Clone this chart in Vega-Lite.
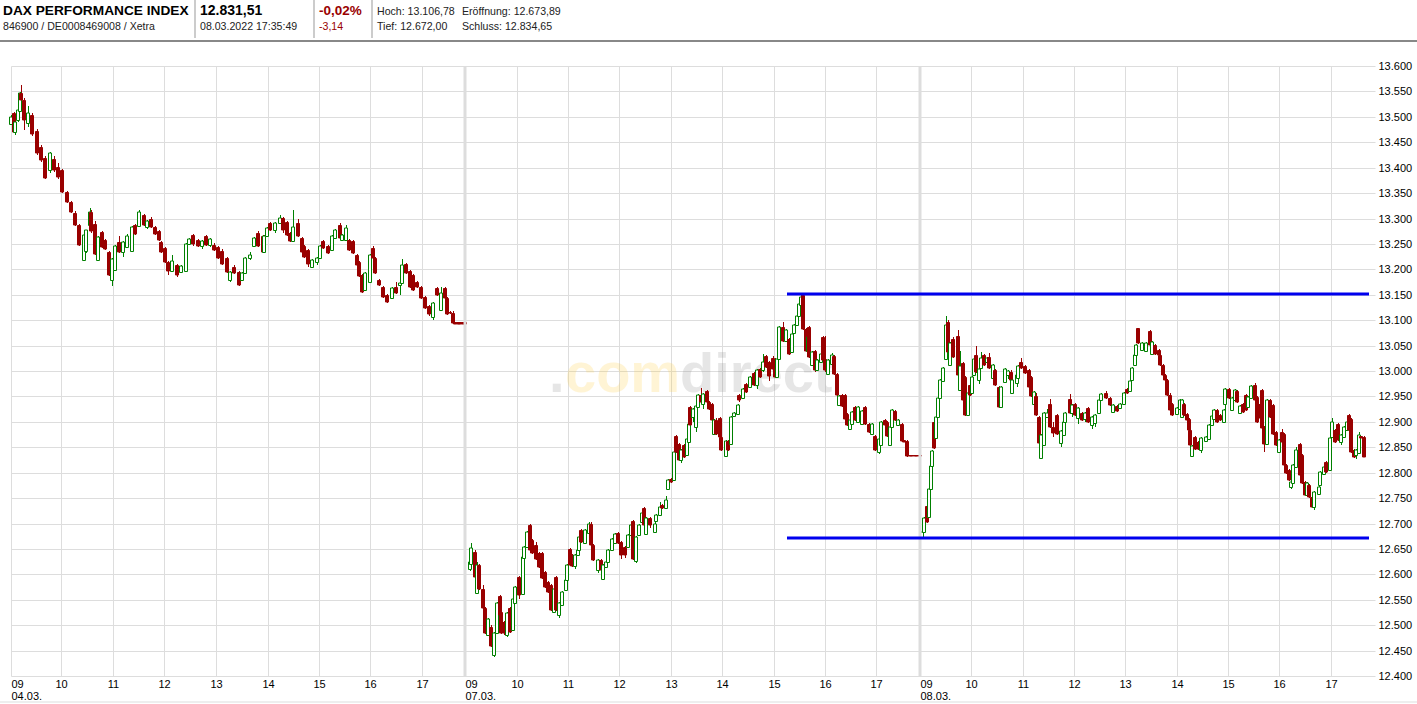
{"$schema":"https://vega.github.io/schema/vega-lite/v6.json","width":1364,"height":610,"autosize":{"type":"none"},"padding":{"left":11,"top":66,"right":42,"bottom":28},"background":"white","config":{"view":{"stroke":null},"text":{"font":"Liberation Sans"}},
"datasets":{"candles":[
{"m":0,"o":13486,"h":13503,"l":13484,"c":13500},{"m":3,"o":13507,"h":13510,"l":13468,"c":13470},{"m":5,"o":13470,"h":13493,"l":13465,"c":13490},{"m":8,"o":13493,"h":13516,"l":13490,"c":13513},{"m":10,"o":13512,"h":13548,"l":13510,"c":13546},{"m":12,"o":13546,"h":13562,"l":13530,"c":13533},{"m":15,"o":13533,"h":13537,"l":13475,"c":13493},{"m":20,"o":13487,"h":13522,"l":13480,"c":13508},{"m":25,"o":13503,"h":13508,"l":13462,"c":13467},{"m":30,"o":13472,"h":13476,"l":13425,"c":13428},{"m":35,"o":13441,"h":13444,"l":13412,"c":13415},{"m":40,"o":13420,"h":13422,"l":13378,"c":13380},{"m":45,"o":13395,"h":13431,"l":13390,"c":13428},{"m":50,"o":13418,"h":13422,"l":13392,"c":13395},{"m":55,"o":13402,"h":13409,"l":13378,"c":13382},{"m":60,"o":13395,"h":13398,"l":13350,"c":13352},{"m":65,"o":13352,"h":13355,"l":13330,"c":13332},{"m":70,"o":13332,"h":13335,"l":13311,"c":13313},{"m":75,"o":13311,"h":13314,"l":13285,"c":13287},{"m":80,"o":13287,"h":13290,"l":13245,"c":13247},{"m":85,"o":13219,"h":13267,"l":13216,"c":13267},{"m":88,"o":13236,"h":13277,"l":13232,"c":13277},{"m":92,"o":13287,"h":13321,"l":13284,"c":13313},{"m":94,"o":13313,"h":13316,"l":13272,"c":13275},{"m":98,"o":13290,"h":13295,"l":13229,"c":13231},{"m":102,"o":13219,"h":13266,"l":13216,"c":13264},{"m":106,"o":13273,"h":13276,"l":13242,"c":13244},{"m":110,"o":13257,"h":13260,"l":13238,"c":13240},{"m":114,"o":13234,"h":13236,"l":13186,"c":13188},{"m":118,"o":13179,"h":13223,"l":13167,"c":13221},{"m":122,"o":13198,"h":13247,"l":13196,"c":13245},{"m":126,"o":13254,"h":13265,"l":13232,"c":13234},{"m":131,"o":13234,"h":13256,"l":13225,"c":13254},{"m":136,"o":13244,"h":13270,"l":13242,"c":13265},{"m":141,"o":13237,"h":13285,"l":13235,"c":13283},{"m":145,"o":13287,"h":13289,"l":13268,"c":13270},{"m":149,"o":13285,"h":13316,"l":13283,"c":13313},{"m":155,"o":13306,"h":13309,"l":13285,"c":13287},{"m":159,"o":13283,"h":13298,"l":13280,"c":13296},{"m":164,"o":13300,"h":13303,"l":13281,"c":13283},{"m":168,"o":13283,"h":13285,"l":13268,"c":13270},{"m":173,"o":13275,"h":13277,"l":13255,"c":13257},{"m":175,"o":13254,"h":13256,"l":13232,"c":13234},{"m":180,"o":13241,"h":13243,"l":13212,"c":13214},{"m":184,"o":13214,"h":13216,"l":13188,"c":13197},{"m":188,"o":13197,"h":13228,"l":13195,"c":13217},{"m":194,"o":13208,"h":13210,"l":13185,"c":13188},{"m":199,"o":13195,"h":13208,"l":13192,"c":13206},{"m":204,"o":13197,"h":13252,"l":13195,"c":13250},{"m":208,"o":13250,"h":13262,"l":13248,"c":13260},{"m":213,"o":13267,"h":13269,"l":13246,"c":13250},{"m":218,"o":13258,"h":13260,"l":13244,"c":13246},{"m":223,"o":13246,"h":13258,"l":13240,"c":13256},{"m":228,"o":13266,"h":13268,"l":13246,"c":13248},{"m":232,"o":13248,"h":13262,"l":13244,"c":13260},{"m":237,"o":13248,"h":13252,"l":13236,"c":13238},{"m":242,"o":13243,"h":13246,"l":13220,"c":13222},{"m":247,"o":13237,"h":13240,"l":13208,"c":13210},{"m":252,"o":13222,"h":13224,"l":13192,"c":13195},{"m":256,"o":13179,"h":13197,"l":13176,"c":13195},{"m":261,"o":13205,"h":13208,"l":13190,"c":13192},{"m":266,"o":13195,"h":13197,"l":13168,"c":13170},
{"m":270,"o":13179,"h":13194,"l":13177,"c":13192},{"m":274,"o":13192,"h":13224,"l":13190,"c":13222},{"m":279,"o":13222,"h":13235,"l":13218,"c":13228},{"m":284,"o":13245,"h":13263,"l":13243,"c":13261},{"m":289,"o":13272,"h":13275,"l":13243,"c":13245},{"m":294,"o":13265,"h":13267,"l":13233,"c":13235},{"m":296,"o":13235,"h":13267,"l":13233,"c":13265},{"m":299,"o":13265,"h":13283,"l":13263,"c":13281},{"m":303,"o":13291,"h":13293,"l":13276,"c":13278},{"m":308,"o":13278,"h":13293,"l":13272,"c":13291},{"m":314,"o":13291,"h":13307,"l":13289,"c":13301},{"m":318,"o":13301,"h":13303,"l":13272,"c":13278},{"m":322,"o":13294,"h":13296,"l":13266,"c":13268},{"m":326,"o":13271,"h":13273,"l":13253,"c":13255},{"m":330,"o":13255,"h":13317,"l":13253,"c":13284},{"m":335,"o":13291,"h":13300,"l":13263,"c":13265},{"m":340,"o":13261,"h":13264,"l":13233,"c":13235},{"m":342,"o":13245,"h":13247,"l":13223,"c":13225},{"m":347,"o":13238,"h":13240,"l":13205,"c":13211},{"m":352,"o":13205,"h":13221,"l":13202,"c":13219},{"m":358,"o":13215,"h":13224,"l":13208,"c":13222},{"m":361,"o":13222,"h":13247,"l":13220,"c":13245},{"m":365,"o":13255,"h":13258,"l":13240,"c":13242},{"m":370,"o":13245,"h":13247,"l":13230,"c":13232},{"m":375,"o":13238,"h":13267,"l":13236,"c":13265},{"m":379,"o":13261,"h":13280,"l":13259,"c":13278},{"m":384,"o":13288,"h":13291,"l":13259,"c":13261},{"m":387,"o":13258,"h":13270,"l":13256,"c":13268},{"m":391,"o":13258,"h":13288,"l":13256,"c":13281},{"m":395,"o":13258,"h":13260,"l":13236,"c":13238},{"m":400,"o":13255,"h":13257,"l":13230,"c":13232},{"m":404,"o":13228,"h":13230,"l":13207,"c":13209},{"m":407,"o":13215,"h":13217,"l":13184,"c":13186},{"m":410,"o":13189,"h":13191,"l":13154,"c":13156},{"m":414,"o":13159,"h":13194,"l":13157,"c":13192},{"m":419,"o":13176,"h":13230,"l":13174,"c":13228},{"m":423,"o":13242,"h":13245,"l":13220,"c":13222},{"m":425,"o":13222,"h":13224,"l":13190,"c":13192},{"m":430,"o":13179,"h":13181,"l":13167,"c":13169},{"m":435,"o":13166,"h":13168,"l":13144,"c":13146},{"m":439,"o":13150,"h":13152,"l":13134,"c":13136},{"m":445,"o":13143,"h":13165,"l":13141,"c":13163},{"m":450,"o":13166,"h":13175,"l":13151,"c":13153},{"m":455,"o":13169,"h":13175,"l":13150,"c":13173},{"m":457,"o":13173,"h":13220,"l":13171,"c":13209},{"m":461,"o":13211,"h":13213,"l":13190,"c":13192},{"m":466,"o":13196,"h":13198,"l":13164,"c":13166},{"m":470,"o":13189,"h":13191,"l":13157,"c":13159},{"m":474,"o":13176,"h":13178,"l":13164,"c":13166},{"m":479,"o":13166,"h":13168,"l":13141,"c":13143},{"m":484,"o":13146,"h":13148,"l":13121,"c":13123},{"m":488,"o":13127,"h":13129,"l":13108,"c":13113},{"m":493,"o":13107,"h":13135,"l":13100,"c":13133},{"m":498,"o":13163,"h":13165,"l":13148,"c":13150},{"m":503,"o":13120,"h":13165,"l":13118,"c":13153},{"m":507,"o":13163,"h":13166,"l":13141,"c":13143},{"m":510,"o":13143,"h":13145,"l":13111,"c":13113},{"m":513,"o":13116,"h":13118,"l":13113,"c":13115},{"m":516,"o":13115,"h":13118,"l":13093,"c":13095},{"m":519,"o":13096,"h":13096,"l":13093,"c":13093},{"m":522,"o":13096,"h":13096,"l":13093,"c":13093},{"m":525,"o":13096,"h":13096,"l":13093,"c":13093},{"m":528,"o":13096,"h":13096,"l":13093,"c":13093},{"m":531,"o":13096,"h":13096,"l":13093,"c":13093},
{"m":536,"o":12611,"h":12627,"l":12607,"c":12625},{"m":538,"o":12621,"h":12661,"l":12619,"c":12651},{"m":542,"o":12644,"h":12647,"l":12593,"c":12595},{"m":545,"o":12564,"h":12624,"l":12562,"c":12618},{"m":547,"o":12618,"h":12620,"l":12570,"c":12572},{"m":551,"o":12572,"h":12579,"l":12531,"c":12533},{"m":554,"o":12533,"h":12536,"l":12482,"c":12484},{"m":557,"o":12480,"h":12515,"l":12478,"c":12513},{"m":561,"o":12497,"h":12500,"l":12457,"c":12459},{"m":564,"o":12441,"h":12486,"l":12438,"c":12484},{"m":568,"o":12484,"h":12545,"l":12482,"c":12543},{"m":571,"o":12557,"h":12560,"l":12518,"c":12520},{"m":573,"o":12526,"h":12528,"l":12482,"c":12484},{"m":576,"o":12506,"h":12508,"l":12480,"c":12484},{"m":580,"o":12480,"h":12525,"l":12476,"c":12523},{"m":583,"o":12533,"h":12535,"l":12485,"c":12487},{"m":586,"o":12490,"h":12554,"l":12488,"c":12552},{"m":589,"o":12543,"h":12577,"l":12541,"c":12575},{"m":594,"o":12595,"h":12597,"l":12552,"c":12559},{"m":598,"o":12562,"h":12636,"l":12560,"c":12634},{"m":600,"o":12633,"h":12656,"l":12631,"c":12654},{"m":603,"o":12654,"h":12686,"l":12652,"c":12684},{"m":606,"o":12697,"h":12699,"l":12646,"c":12648},{"m":609,"o":12667,"h":12669,"l":12640,"c":12642},{"m":614,"o":12657,"h":12663,"l":12629,"c":12631},{"m":617,"o":12641,"h":12643,"l":12613,"c":12615},{"m":621,"o":12641,"h":12643,"l":12590,"c":12592},{"m":624,"o":12605,"h":12607,"l":12573,"c":12575},{"m":628,"o":12585,"h":12587,"l":12564,"c":12566},{"m":631,"o":12579,"h":12581,"l":12527,"c":12529},{"m":634,"o":12526,"h":12574,"l":12524,"c":12572},{"m":637,"o":12595,"h":12597,"l":12527,"c":12529},{"m":640,"o":12520,"h":12545,"l":12514,"c":12543},{"m":644,"o":12539,"h":12568,"l":12537,"c":12566},{"m":648,"o":12569,"h":12590,"l":12567,"c":12588},{"m":650,"o":12588,"h":12620,"l":12586,"c":12618},{"m":653,"o":12649,"h":12652,"l":12616,"c":12618},{"m":656,"o":12638,"h":12640,"l":12615,"c":12617},{"m":659,"o":12616,"h":12640,"l":12610,"c":12638},{"m":662,"o":12638,"h":12650,"l":12636,"c":12648},{"m":664,"o":12648,"h":12676,"l":12646,"c":12674},{"m":666,"o":12687,"h":12689,"l":12662,"c":12664},{"m":671,"o":12661,"h":12690,"l":12659,"c":12688},{"m":675,"o":12682,"h":12702,"l":12680,"c":12700},{"m":678,"o":12700,"h":12702,"l":12655,"c":12657},{"m":680,"o":12657,"h":12659,"l":12626,"c":12628},{"m":686,"o":12608,"h":12630,"l":12603,"c":12628},{"m":689,"o":12628,"h":12630,"l":12606,"c":12608},{"m":692,"o":12590,"h":12620,"l":12588,"c":12618},{"m":695,"o":12615,"h":12627,"l":12613,"c":12625},{"m":698,"o":12625,"h":12650,"l":12623,"c":12648},{"m":702,"o":12648,"h":12672,"l":12646,"c":12670},{"m":706,"o":12661,"h":12682,"l":12659,"c":12680},{"m":709,"o":12682,"h":12684,"l":12659,"c":12661},{"m":713,"o":12664,"h":12666,"l":12631,"c":12638},{"m":717,"o":12654,"h":12656,"l":12632,"c":12638},{"m":721,"o":12654,"h":12679,"l":12652,"c":12677},{"m":724,"o":12677,"h":12699,"l":12675,"c":12697},{"m":727,"o":12705,"h":12707,"l":12629,"c":12631},{"m":730,"o":12627,"h":12676,"l":12622,"c":12674},{"m":734,"o":12677,"h":12699,"l":12675,"c":12697},{"m":737,"o":12703,"h":12723,"l":12701,"c":12721},{"m":740,"o":12730,"h":12732,"l":12695,"c":12697},{"m":742,"o":12680,"h":12712,"l":12678,"c":12710},{"m":747,"o":12710,"h":12712,"l":12692,"c":12697},{"m":752,"o":12684,"h":12702,"l":12682,"c":12700},{"m":754,"o":12705,"h":12718,"l":12703,"c":12716},{"m":758,"o":12716,"h":12743,"l":12714,"c":12733},{"m":761,"o":12736,"h":12738,"l":12728,"c":12730},{"m":765,"o":12731,"h":12755,"l":12729,"c":12746},
{"m":768,"o":12768,"h":12787,"l":12766,"c":12785},{"m":771,"o":12788,"h":12790,"l":12779,"c":12781},{"m":775,"o":12785,"h":12842,"l":12783,"c":12840},{"m":777,"o":12873,"h":12875,"l":12838,"c":12840},{"m":780,"o":12857,"h":12859,"l":12822,"c":12824},{"m":783,"o":12824,"h":12846,"l":12820,"c":12844},{"m":786,"o":12854,"h":12856,"l":12829,"c":12831},{"m":790,"o":12834,"h":12869,"l":12832,"c":12867},{"m":792,"o":12860,"h":12898,"l":12858,"c":12896},{"m":793,"o":12929,"h":12931,"l":12891,"c":12893},{"m":797,"o":12909,"h":12928,"l":12900,"c":12926},{"m":800,"o":12890,"h":12934,"l":12880,"c":12932},{"m":803,"o":12930,"h":12954,"l":12928,"c":12952},{"m":806,"o":12952,"h":12966,"l":12937,"c":12939},{"m":809,"o":12936,"h":12957,"l":12925,"c":12955},{"m":813,"o":12960,"h":12962,"l":12937,"c":12939},{"m":816,"o":12939,"h":12941,"l":12924,"c":12926},{"m":819,"o":12936,"h":12938,"l":12901,"c":12903},{"m":821,"o":12877,"h":12905,"l":12875,"c":12903},{"m":824,"o":12903,"h":12908,"l":12875,"c":12877},{"m":828,"o":12908,"h":12910,"l":12868,"c":12870},{"m":830,"o":12870,"h":12872,"l":12842,"c":12844},{"m":835,"o":12833,"h":12865,"l":12831,"c":12863},{"m":838,"o":12862,"h":12864,"l":12842,"c":12844},{"m":841,"o":12857,"h":12911,"l":12855,"c":12909},{"m":845,"o":12911,"h":12919,"l":12909,"c":12917},{"m":849,"o":12916,"h":12936,"l":12914,"c":12934},{"m":851,"o":12952,"h":12954,"l":12940,"c":12942},{"m":855,"o":12947,"h":12967,"l":12945,"c":12965},{"m":859,"o":12975,"h":12977,"l":12956,"c":12958},{"m":864,"o":12968,"h":12990,"l":12966,"c":12988},{"m":868,"o":12996,"h":12998,"l":12970,"c":12972},{"m":872,"o":12972,"h":13004,"l":12965,"c":13002},{"m":875,"o":13004,"h":13006,"l":12986,"c":12988},{"m":879,"o":13001,"h":13034,"l":12999,"c":13018},{"m":882,"o":13029,"h":13031,"l":13006,"c":13008},{"m":886,"o":13018,"h":13020,"l":12980,"c":12991},{"m":890,"o":13026,"h":13030,"l":13002,"c":13004},{"m":893,"o":13024,"h":13026,"l":12986,"c":12988},{"m":895,"o":12988,"h":13026,"l":12986,"c":13024},{"m":897,"o":13024,"h":13088,"l":13022,"c":13086},{"m":902,"o":13086,"h":13096,"l":13058,"c":13060},{"m":906,"o":13060,"h":13082,"l":13058,"c":13080},{"m":909,"o":13063,"h":13065,"l":13032,"c":13034},{"m":912,"o":13037,"h":13075,"l":13035,"c":13073},{"m":915,"o":13075,"h":13092,"l":13073,"c":13090},{"m":918,"o":13090,"h":13111,"l":13088,"c":13109},{"m":921,"o":13109,"h":13134,"l":13107,"c":13132},{"m":923,"o":13129,"h":13152,"l":13127,"c":13145},{"m":926,"o":13149,"h":13152,"l":13081,"c":13083},{"m":929,"o":13083,"h":13085,"l":13038,"c":13040},{"m":931,"o":13040,"h":13069,"l":13038,"c":13067},{"m":933,"o":13086,"h":13088,"l":13025,"c":13027},{"m":936,"o":13011,"h":13039,"l":13009,"c":13037},{"m":939,"o":13039,"h":13041,"l":12999,"c":13001},{"m":942,"o":13002,"h":13023,"l":13000,"c":13021},{"m":946,"o":13018,"h":13035,"l":13016,"c":13033},{"m":949,"o":13067,"h":13069,"l":13019,"c":13021},{"m":951,"o":13024,"h":13068,"l":12999,"c":13001},{"m":955,"o":12995,"h":13023,"l":12993,"c":13021},{"m":959,"o":13014,"h":13036,"l":13012,"c":13031},{"m":962,"o":13029,"h":13031,"l":12993,"c":12995},{"m":965,"o":12995,"h":12997,"l":12950,"c":12952},{"m":968,"o":12934,"h":12953,"l":12932,"c":12951},{"m":971,"o":12952,"h":12954,"l":12930,"c":12932},{"m":974,"o":12952,"h":12954,"l":12904,"c":12906},{"m":977,"o":12916,"h":12918,"l":12891,"c":12893},{"m":980,"o":12886,"h":12905,"l":12884,"c":12903},{"m":983,"o":12896,"h":12921,"l":12894,"c":12919},{"m":986,"o":12929,"h":12931,"l":12901,"c":12903},{"m":990,"o":12900,"h":12931,"l":12898,"c":12929},{"m":994,"o":12896,"h":12924,"l":12894,"c":12922},{"m":998,"o":12929,"h":12931,"l":12894,"c":12896},{"m":1002,"o":12896,"h":12898,"l":12878,"c":12880},{"m":1006,"o":12877,"h":12898,"l":12875,"c":12896},{"m":1010,"o":12873,"h":12875,"l":12842,"c":12844},{"m":1014,"o":12841,"h":12869,"l":12836,"c":12867},{"m":1017,"o":12854,"h":12902,"l":12852,"c":12900},{"m":1021,"o":12904,"h":12906,"l":12891,"c":12893},{"m":1024,"o":12900,"h":12902,"l":12871,"c":12873},{"m":1027,"o":12854,"h":12892,"l":12852,"c":12890},{"m":1030,"o":12890,"h":12926,"l":12888,"c":12924},{"m":1033,"o":12922,"h":12924,"l":12901,"c":12903},{"m":1037,"o":12893,"h":12905,"l":12891,"c":12903},{"m":1041,"o":12896,"h":12898,"l":12860,"c":12862},{"m":1044,"o":12864,"h":12864,"l":12861,"c":12861},{"m":1047,"o":12862,"h":12864,"l":12831,"c":12833},{"m":1050,"o":12835,"h":12835,"l":12832,"c":12832},{"m":1053,"o":12835,"h":12835,"l":12832,"c":12832},{"m":1056,"o":12835,"h":12835,"l":12832,"c":12832},{"m":1059,"o":12835,"h":12835,"l":12832,"c":12832},{"m":1062,"o":12835,"h":12835,"l":12832,"c":12832},
{"m":1064,"o":12672,"h":12686,"l":12670,"c":12684},{"m":1067,"o":12684,"h":12712,"l":12682,"c":12710},{"m":1070,"o":12734,"h":12736,"l":12701,"c":12703},{"m":1073,"o":12713,"h":12769,"l":12711,"c":12767},{"m":1075,"o":12767,"h":12815,"l":12765,"c":12813},{"m":1076,"o":12813,"h":12845,"l":12811,"c":12843},{"m":1078,"o":12900,"h":12902,"l":12846,"c":12848},{"m":1081,"o":12869,"h":12915,"l":12867,"c":12909},{"m":1083,"o":12910,"h":12948,"l":12908,"c":12946},{"m":1086,"o":12946,"h":12984,"l":12944,"c":12982},{"m":1089,"o":12981,"h":13007,"l":12979,"c":13005},{"m":1092,"o":13023,"h":13109,"l":13021,"c":13091},{"m":1095,"o":13097,"h":13100,"l":13036,"c":13038},{"m":1097,"o":13012,"h":13057,"l":13010,"c":13055},{"m":1101,"o":13063,"h":13066,"l":13026,"c":13028},{"m":1106,"o":13069,"h":13081,"l":12990,"c":12992},{"m":1109,"o":12963,"h":13040,"l":12961,"c":13009},{"m":1112,"o":13015,"h":13017,"l":12941,"c":12943},{"m":1115,"o":12989,"h":12991,"l":12911,"c":12913},{"m":1118,"o":12913,"h":12958,"l":12911,"c":12956},{"m":1121,"o":12973,"h":12980,"l":12951,"c":12953},{"m":1123,"o":12956,"h":12991,"l":12954,"c":12989},{"m":1125,"o":12992,"h":13025,"l":12990,"c":13023},{"m":1128,"o":13032,"h":13049,"l":12997,"c":12999},{"m":1131,"o":12982,"h":13005,"l":12975,"c":13003},{"m":1134,"o":13005,"h":13038,"l":13003,"c":13025},{"m":1137,"o":13032,"h":13034,"l":13010,"c":13012},{"m":1141,"o":13018,"h":13027,"l":13012,"c":13025},{"m":1143,"o":13028,"h":13036,"l":13003,"c":13005},{"m":1147,"o":12986,"h":13014,"l":12982,"c":13012},{"m":1150,"o":13001,"h":13003,"l":12971,"c":12973},{"m":1155,"o":12968,"h":12970,"l":12927,"c":12929},{"m":1157,"o":12929,"h":12971,"l":12927,"c":12969},{"m":1162,"o":12979,"h":13006,"l":12977,"c":13004},{"m":1165,"o":12993,"h":13002,"l":12985,"c":13000},{"m":1168,"o":12999,"h":13001,"l":12980,"c":12982},{"m":1170,"o":12957,"h":12984,"l":12955,"c":12982},{"m":1175,"o":12976,"h":12994,"l":12968,"c":12992},{"m":1177,"o":12986,"h":13012,"l":12984,"c":13010},{"m":1180,"o":13017,"h":13025,"l":13003,"c":13005},{"m":1185,"o":13010,"h":13012,"l":12994,"c":12996},{"m":1189,"o":13002,"h":13004,"l":12966,"c":12968},{"m":1192,"o":12989,"h":12991,"l":12948,"c":12950},{"m":1195,"o":12936,"h":12961,"l":12934,"c":12959},{"m":1198,"o":12950,"h":12956,"l":12911,"c":12913},{"m":1201,"o":12910,"h":12912,"l":12856,"c":12858},{"m":1204,"o":12828,"h":12876,"l":12826,"c":12874},{"m":1207,"o":12854,"h":12919,"l":12852,"c":12917},{"m":1211,"o":12910,"h":12925,"l":12908,"c":12917},{"m":1214,"o":12936,"h":12945,"l":12888,"c":12890},{"m":1217,"o":12890,"h":12900,"l":12870,"c":12878},{"m":1222,"o":12913,"h":12915,"l":12875,"c":12877},{"m":1227,"o":12858,"h":12883,"l":12850,"c":12881},{"m":1230,"o":12874,"h":12902,"l":12872,"c":12900},{"m":1232,"o":12900,"h":12919,"l":12898,"c":12917},{"m":1237,"o":12944,"h":12954,"l":12915,"c":12917},{"m":1240,"o":12917,"h":12935,"l":12910,"c":12933},{"m":1243,"o":12936,"h":12938,"l":12911,"c":12913},{"m":1247,"o":12907,"h":12929,"l":12895,"c":12927},{"m":1251,"o":12917,"h":12919,"l":12902,"c":12904},{"m":1255,"o":12905,"h":12919,"l":12900,"c":12917},{"m":1259,"o":12927,"h":12929,"l":12898,"c":12900},{"m":1263,"o":12894,"h":12912,"l":12885,"c":12910},{"m":1267,"o":12897,"h":12915,"l":12890,"c":12913},{"m":1271,"o":12917,"h":12945,"l":12915,"c":12943},{"m":1274,"o":12943,"h":12956,"l":12941,"c":12954},{"m":1279,"o":12956,"h":12960,"l":12944,"c":12946},{"m":1284,"o":12946,"h":12948,"l":12931,"c":12933},{"m":1288,"o":12920,"h":12935,"l":12918,"c":12933},{"m":1292,"o":12931,"h":12933,"l":12920,"c":12922},{"m":1296,"o":12927,"h":12937,"l":12925,"c":12935},{"m":1300,"o":12936,"h":12958,"l":12934,"c":12956},{"m":1304,"o":12964,"h":12966,"l":12954,"c":12956},{"m":1308,"o":12961,"h":12983,"l":12959,"c":12981},{"m":1310,"o":12982,"h":13007,"l":12980,"c":13005},{"m":1313,"o":13012,"h":13034,"l":13010,"c":13032},{"m":1315,"o":13032,"h":13053,"l":13030,"c":13051},{"m":1317,"o":13084,"h":13084,"l":13053,"c":13055},{"m":1321,"o":13042,"h":13058,"l":13040,"c":13056},{"m":1326,"o":13040,"h":13058,"l":13038,"c":13056},{"m":1331,"o":13078,"h":13080,"l":13049,"c":13051},{"m":1333,"o":13033,"h":13060,"l":13031,"c":13058},
{"m":1337,"o":13051,"h":13053,"l":13032,"c":13034},{"m":1341,"o":13041,"h":13043,"l":13029,"c":13031},{"m":1343,"o":13031,"h":13033,"l":13009,"c":13011},{"m":1346,"o":13011,"h":13013,"l":12990,"c":12992},{"m":1348,"o":12992,"h":12994,"l":12980,"c":12982},{"m":1351,"o":12982,"h":12984,"l":12950,"c":12952},{"m":1354,"o":12952,"h":12957,"l":12921,"c":12923},{"m":1357,"o":12935,"h":12937,"l":12911,"c":12913},{"m":1362,"o":12916,"h":12930,"l":12914,"c":12928},{"m":1366,"o":12926,"h":12945,"l":12924,"c":12943},{"m":1368,"o":12910,"h":12945,"l":12908,"c":12943},{"m":1371,"o":12936,"h":12938,"l":12911,"c":12913},{"m":1374,"o":12916,"h":12918,"l":12901,"c":12903},{"m":1376,"o":12906,"h":12908,"l":12875,"c":12884},{"m":1378,"o":12884,"h":12886,"l":12852,"c":12854},{"m":1380,"o":12832,"h":12854,"l":12830,"c":12852},{"m":1384,"o":12870,"h":12872,"l":12845,"c":12847},{"m":1387,"o":12860,"h":12862,"l":12845,"c":12847},{"m":1391,"o":12844,"h":12871,"l":12838,"c":12869},{"m":1396,"o":12862,"h":12872,"l":12860,"c":12870},{"m":1400,"o":12867,"h":12895,"l":12865,"c":12893},{"m":1403,"o":12893,"h":12913,"l":12891,"c":12911},{"m":1406,"o":12905,"h":12926,"l":12903,"c":12924},{"m":1409,"o":12924,"h":12926,"l":12898,"c":12900},{"m":1413,"o":12913,"h":12915,"l":12901,"c":12903},{"m":1417,"o":12900,"h":12925,"l":12898,"c":12923},{"m":1419,"o":12936,"h":12967,"l":12920,"c":12965},{"m":1423,"o":12965,"h":12967,"l":12944,"c":12946},{"m":1427,"o":12923,"h":12948,"l":12921,"c":12946},{"m":1430,"o":12943,"h":12964,"l":12941,"c":12962},{"m":1433,"o":12961,"h":12963,"l":12937,"c":12939},{"m":1436,"o":12918,"h":12933,"l":12916,"c":12931},{"m":1439,"o":12936,"h":12938,"l":12918,"c":12920},{"m":1443,"o":12952,"h":12954,"l":12921,"c":12923},{"m":1445,"o":12930,"h":12950,"l":12928,"c":12948},{"m":1449,"o":12946,"h":12972,"l":12944,"c":12970},{"m":1453,"o":12972,"h":12976,"l":12941,"c":12943},{"m":1456,"o":12949,"h":12951,"l":12898,"c":12900},{"m":1459,"o":12935,"h":12937,"l":12905,"c":12907},{"m":1462,"o":12962,"h":12964,"l":12885,"c":12887},{"m":1464,"o":12890,"h":12892,"l":12841,"c":12857},{"m":1468,"o":12857,"h":12945,"l":12855,"c":12943},{"m":1471,"o":12943,"h":12945,"l":12908,"c":12910},{"m":1475,"o":12933,"h":12935,"l":12875,"c":12877},{"m":1478,"o":12880,"h":12882,"l":12852,"c":12854},{"m":1482,"o":12841,"h":12866,"l":12839,"c":12864},{"m":1485,"o":12880,"h":12885,"l":12859,"c":12861},{"m":1488,"o":12877,"h":12879,"l":12813,"c":12815},{"m":1490,"o":12815,"h":12817,"l":12798,"c":12800},{"m":1493,"o":12805,"h":12807,"l":12783,"c":12785},{"m":1496,"o":12772,"h":12784,"l":12768,"c":12782},{"m":1498,"o":12779,"h":12817,"l":12777,"c":12815},{"m":1501,"o":12811,"h":12850,"l":12809,"c":12844},{"m":1506,"o":12856,"h":12858,"l":12793,"c":12795},{"m":1509,"o":12834,"h":12836,"l":12777,"c":12779},{"m":1512,"o":12782,"h":12784,"l":12754,"c":12756},{"m":1514,"o":12756,"h":12781,"l":12754,"c":12779},{"m":1517,"o":12775,"h":12777,"l":12750,"c":12752},{"m":1520,"o":12752,"h":12754,"l":12731,"c":12733},{"m":1523,"o":12733,"h":12764,"l":12726,"c":12762},{"m":1528,"o":12759,"h":12790,"l":12757,"c":12772},{"m":1530,"o":12775,"h":12804,"l":12773,"c":12802},{"m":1534,"o":12798,"h":12813,"l":12796,"c":12811},{"m":1537,"o":12821,"h":12823,"l":12800,"c":12802},{"m":1541,"o":12805,"h":12871,"l":12803,"c":12869},{"m":1544,"o":12870,"h":12908,"l":12868,"c":12900},{"m":1547,"o":12884,"h":12886,"l":12859,"c":12861},{"m":1551,"o":12895,"h":12897,"l":12862,"c":12864},{"m":1554,"o":12861,"h":12876,"l":12855,"c":12874},{"m":1558,"o":12870,"h":12892,"l":12868,"c":12890},{"m":1561,"o":12884,"h":12902,"l":12882,"c":12900},{"m":1563,"o":12914,"h":12916,"l":12882,"c":12884},{"m":1566,"o":12906,"h":12908,"l":12839,"c":12841},{"m":1569,"o":12844,"h":12846,"l":12829,"c":12831},{"m":1572,"o":12834,"h":12846,"l":12826,"c":12844},{"m":1575,"o":12838,"h":12880,"l":12836,"c":12874},{"m":1578,"o":12872,"h":12872,"l":12869,"c":12869},{"m":1581,"o":12870,"h":12872,"l":12831,"c":12831}
],
"levels":[{"start":907,"end":1587,"price":13152},{"start":907,"end":1587,"price":12671}],
"sessions":[{"m":531},{"m":1062}]},
"data":{"name":"candles"},
"layer":[
{"data":{"values":[{"t":"."}]},"mark":{"type":"text","align":"left","baseline":"alphabetic","fontSize":56,"fontWeight":"bold","font":"Liberation Sans","fill":"#888888","opacity":0.2},"encoding":{"text":{"field":"t"},"x":{"value":538},"y":{"value":326}}},
{"data":{"values":[{"t":"com"}]},"mark":{"type":"text","align":"left","baseline":"alphabetic","fontSize":56,"fontWeight":"bold","font":"Liberation Sans","fill":"#ffcc33","opacity":0.2},"encoding":{"text":{"field":"t"},"x":{"value":554},"y":{"value":326}}},
{"data":{"values":[{"t":"direct"}]},"mark":{"type":"text","align":"left","baseline":"alphabetic","fontSize":56,"fontWeight":"bold","font":"Liberation Sans","fill":"#888888","opacity":0.2},"encoding":{"text":{"field":"t"},"x":{"value":669},"y":{"value":326}}},
{"mark":{"type":"rule","strokeWidth":1,"xOffset":0.5},"encoding":{"x":{"field":"m","type":"quantitative","scale":{"domain":[0,1593.8],"nice":false,"zero":false,"padding":0,"round":true},"axis":{"orient":"bottom","title":null,"tickCount":40,"values":[0,59,119,179,240,300,360,420,480,531,591,651,711,771,831,891,951,1011,1062,1122,1182,1242,1302,1362,1422,1482,1542],"grid":true,"gridColor":"#dddddd","gridWidth":1,"domain":false,"ticks":false,"labelPadding":2,"labelFontSize":11,"labelFont":"Liberation Sans","labelColor":"#000000","labelOverlap":false,"labelBound":false,"labelFlush":false,"labelBaseline":"top","labelLineHeight":12,"labelAlign":{"expr":"datum.value%531==0?'left':'center'"},"labelExpr":"datum.value==0?['09','04.03.']:datum.value==531?['09','07.03.']:datum.value==1062?['09','08.03.']:''+(9+round((datum.value%531)/60))"}},"y":{"field":"l","type":"quantitative","scale":{"domain":[12400,13600],"nice":false,"zero":false,"round":true},"axis":{"orient":"right","title":null,"tickCount":40,"values":[12400,12450,12500,12550,12600,12650,12700,12750,12800,12850,12900,12950,13000,13050,13100,13150,13200,13250,13300,13350,13400,13450,13500,13550,13600],"grid":true,"gridColor":"#dddddd","gridWidth":1,"domain":false,"ticks":false,"labelPadding":3,"labelFontSize":11,"labelFont":"Liberation Sans","labelColor":"#000000","labelOverlap":false,"labelBound":false,"labelFlush":false,"labelExpr":"replace(format(datum.value,','),',','.')"}},"y2":{"field":"h"},"stroke":{"condition":{"test":"datum.c>=datum.o","value":"#008000"},"value":"#990000"}}},
{"mark":{"type":"bar","width":3,"strokeWidth":1,"yOffset":0.5},"encoding":{"x":{"field":"m","type":"quantitative"},"y":{"field":"o","type":"quantitative"},"y2":{"field":"c"},"fill":{"condition":{"test":"datum.c>=datum.o","value":"#ffffff"},"value":"#990000"},"stroke":{"condition":{"test":"datum.c>=datum.o","value":"#008000"},"value":"#990000"}}},
{"data":{"name":"sessions"},"mark":{"type":"rule","stroke":"#dddddd","strokeWidth":3},"encoding":{"x":{"field":"m","type":"quantitative"}}},
{"data":{"name":"levels"},"mark":{"type":"rule","stroke":"#0000ee","strokeWidth":3},"encoding":{"x":{"field":"start","type":"quantitative"},"x2":{"field":"end"},"y":{"field":"price","type":"quantitative"}}},
{"data":{"values":[{"t":"DAX PERFORMANCE INDEX"}]},"mark":{"type":"text","align":"left","fontSize":13.7,"fontWeight":"bold","fill":"#000000"},"encoding":{"text":{"field":"t"},"x":{"value":-8},"y":{"value":-55}}},
{"data":{"values":[{"t":"846900 / DE0008469008 / Xetra"}]},"mark":{"type":"text","align":"left","fontSize":10.6,"fill":"#222222"},"encoding":{"text":{"field":"t"},"x":{"value":-8},"y":{"value":-39}}},
{"data":{"values":[{"t":"12.831,51"}]},"mark":{"type":"text","align":"left","fontSize":14,"fontWeight":"bold","fill":"#000000"},"encoding":{"text":{"field":"t"},"x":{"value":189},"y":{"value":-55}}},
{"data":{"values":[{"t":"08.03.2022 17:35:49"}]},"mark":{"type":"text","align":"left","fontSize":10.6,"fill":"#222222"},"encoding":{"text":{"field":"t"},"x":{"value":189},"y":{"value":-39}}},
{"data":{"values":[{"t":"-0,02%"}]},"mark":{"type":"text","align":"left","fontSize":13.5,"fontWeight":"bold","fill":"#990000"},"encoding":{"text":{"field":"t"},"x":{"value":308},"y":{"value":-55}}},
{"data":{"values":[{"t":"-3,14"}]},"mark":{"type":"text","align":"left","fontSize":10.6,"fill":"#990000"},"encoding":{"text":{"field":"t"},"x":{"value":308},"y":{"value":-39}}},
{"data":{"values":[{"t":"Hoch: 13.106,78"}]},"mark":{"type":"text","align":"left","fontSize":10.6,"fill":"#222222"},"encoding":{"text":{"field":"t"},"x":{"value":366},"y":{"value":-54}}},
{"data":{"values":[{"t":"Tief: 12.672,00"}]},"mark":{"type":"text","align":"left","fontSize":10.6,"fill":"#222222"},"encoding":{"text":{"field":"t"},"x":{"value":366},"y":{"value":-39}}},
{"data":{"values":[{"t":"Eröffnung: 12.673,89"}]},"mark":{"type":"text","align":"left","fontSize":10.6,"fill":"#222222"},"encoding":{"text":{"field":"t"},"x":{"value":451},"y":{"value":-54}}},
{"data":{"values":[{"t":"Schluss: 12.834,65"}]},"mark":{"type":"text","align":"left","fontSize":10.6,"fill":"#222222"},"encoding":{"text":{"field":"t"},"x":{"value":451},"y":{"value":-39}}},
{"data":{"values":[{"s":1}]},"mark":{"type":"rule","stroke":"#999999","strokeWidth":1},"encoding":{"x":{"value":184},"y":{"value":-66},"y2":{"value":-28}}},
{"data":{"values":[{"s":1}]},"mark":{"type":"rule","stroke":"#999999","strokeWidth":1},"encoding":{"x":{"value":303},"y":{"value":-66},"y2":{"value":-28}}},
{"data":{"values":[{"s":1}]},"mark":{"type":"rule","stroke":"#999999","strokeWidth":1},"encoding":{"x":{"value":361},"y":{"value":-66},"y2":{"value":-28}}},
{"data":{"values":[{"s":1}]},"mark":{"type":"rule","stroke":"#888888","strokeWidth":2},"encoding":{"y":{"value":-25},"x":{"value":-11},"x2":{"value":1406}}},
{"data":{"values":[{"s":1}]},"mark":{"type":"rule","stroke":"#dddddd","strokeWidth":1},"encoding":{"y":{"value":636},"x":{"value":-11},"x2":{"value":1406}}}
]}
